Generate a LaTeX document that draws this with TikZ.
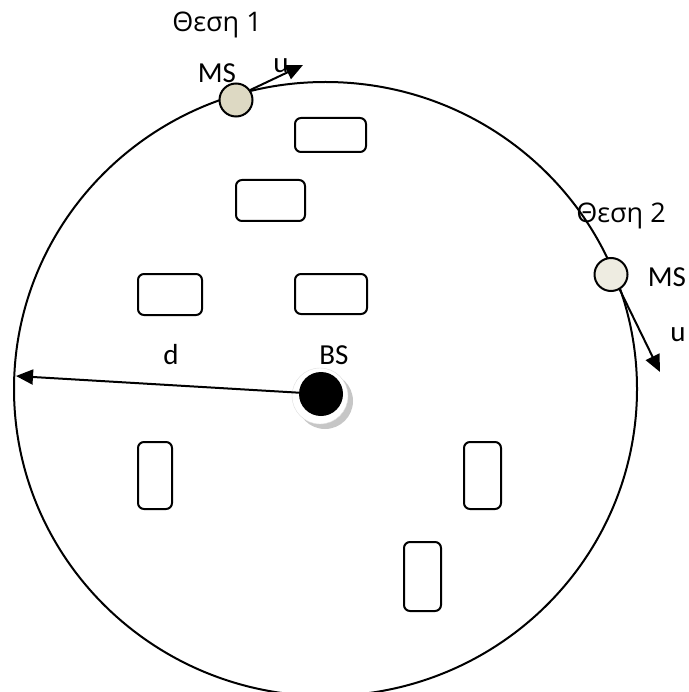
\documentclass[tikz,border=0pt]{standalone}
\usepackage{fontspec}
\setmainfont{Carlito}
\newfontfamily\posfont{Open Sans}
\usetikzlibrary{arrows.meta}

\definecolor{mstan}{RGB}{221,217,195}
\definecolor{mslight}{RGB}{238,236,225}

\tikzset{
    block/.style={draw, line width=2pt, rounded corners=6pt, inner sep=0pt},
    ms/.style={draw, circle, line width=2pt, minimum size=33pt, inner sep=0pt},
    vec/.style={line width=2pt, -{Triangle[length=17pt, width=15pt]}},
    lbl/.style={font=\fontsize{29}{34}\selectfont, inner sep=0pt},
    poslbl/.style={font=\posfont\fontsize{27}{32}\selectfont, inner sep=0pt}
}

\begin{document}
\begin{tikzpicture}[x=1pt, y=-1pt]
                \useasboundingbox (0,0) rectangle (688,692);

                \clip (0,0) rectangle (688,692);

                \draw[line width=2pt] (325.5,389) ellipse [x radius=311.5, y radius=307];

                \node[block, minimum width=71pt, minimum height=34pt] (blk1) at (330.5,135) {};

                \node[block, minimum width=69pt, minimum height=41pt] (blk2) at (270.5,200.5) {};

                \node[block, minimum width=64pt, minimum height=41pt] (blk3) at (170,294.5) {};

                \node[block, minimum width=72pt, minimum height=40pt] (blk4) at (331,294) {};

                \node[block, minimum width=34pt, minimum height=67pt] (blk5) at (155,475.5) {};

                \node[block, minimum width=37pt, minimum height=67pt] (blk6) at (482.5,475.5) {};

                \node[block, minimum width=37pt, minimum height=69pt] (blk7) at (422.5,576.5) {};

                \fill[gray!45] (325,401) circle[radius=28];

                \draw[gray!25, fill=white] (320,396) circle[radius=28];

                \node[circle, fill=black, minimum size=44pt, inner sep=0pt] (bs) at (321,394) {};

                \node[lbl] (bslbl) at (334,355) {BS};

                \coordinate (dend) at (16,376);

                \draw[vec] (bs) -- (dend);

                \node[lbl] (dlbl) at (171,355) {d};

                \node[ms, fill=mstan] (ms1) at (236,100) {};

                \node[poslbl] (pos1) at (217,25) {Θεση 1};

                \node[lbl] (ms1lbl) at (217,73) {MS};

                \coordinate (u1end) at (303,65);

                \draw[vec] (ms1.35) -- (u1end);

                \node[lbl] (u1lbl) at (281,66) {u};

                \node[ms, fill=mslight] (ms2) at (611,274.5) {};

                \node[poslbl] (pos2) at (621,216) {Θεση 2};

                \node[lbl] (ms2lbl) at (667,277) {MS};

                \coordinate (u2end) at (660,372);

                \draw[vec] (ms2.-60) -- (u2end);

                \node[lbl] (u2lbl) at (678,335) {u};
            \end{tikzpicture}
\end{document}
